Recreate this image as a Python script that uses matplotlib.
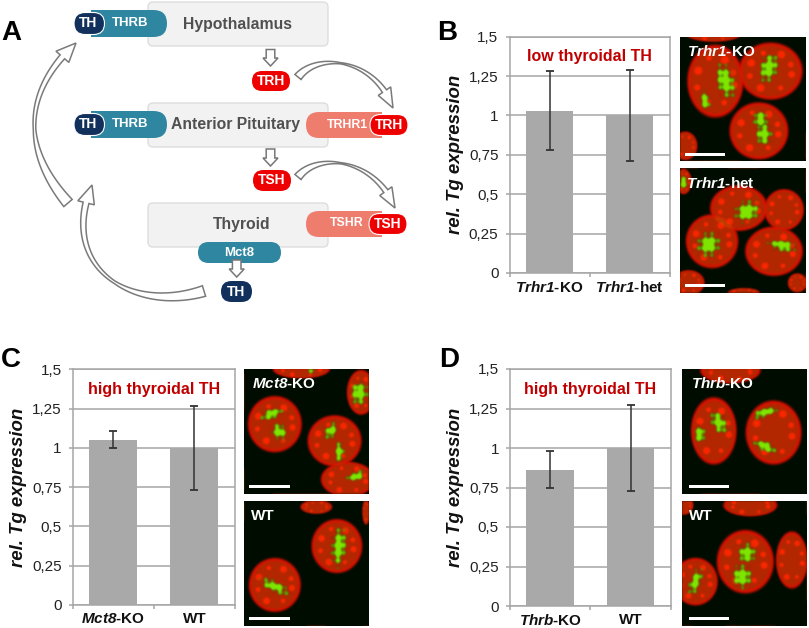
import numpy as np
import matplotlib
matplotlib.use("Agg")
import matplotlib.pyplot as plt
from matplotlib.patches import FancyBboxPatch, Polygon, Rectangle

plt.rcParams['font.family'] = ['Liberation Sans', 'DejaVu Sans']
plt.rcParams['mathtext.fontset'] = 'custom'
plt.rcParams['mathtext.rm'] = 'Liberation Sans:bold'
plt.rcParams['mathtext.it'] = 'Liberation Sans:italic:bold'
plt.rcParams['mathtext.bf'] = 'Liberation Sans:bold'
plt.rcParams['mathtext.bfit'] = 'Liberation Sans:italic:bold'

W, H = 809, 628
fig = plt.figure(figsize=(W / 100, H / 100), dpi=100, facecolor='white')

# ---------- chart data ----------
tick_values = [0, 0.25, 0.5, 0.75, 1, 1.25, 1.5]
tick_labels = ['0', '0,25', '0,5', '0,75', '1', '1,25', '1,5']

b_labels = [r'$\mathbfit{Trhr1}$-KO', r'$\mathbfit{Trhr1}$-het']
b_values = [1.03, 1.00]
b_low = [0.78, 0.71]
b_high = [1.28, 1.29]

c_labels = [r'$\mathbfit{Mct8}$-KO', 'WT']
c_values = [1.05, 1.00]
c_low = [1.00, 0.735]
c_high = [1.11, 1.265]

d_labels = [r'$\mathbfit{Thrb}$-KO', 'WT']
d_values = [0.86, 1.00]
d_low = [0.745, 0.725]
d_high = [0.98, 1.275]

GREY = '#a6a6a6'
DARKRED = '#c00000'


def axes_px(x0, y0, x1, y1, **kw):
    return fig.add_axes([x0 / W, 1 - y1 / H, (x1 - x0) / W, (y1 - y0) / H], **kw)


def bar_panel(box, labels, values, low, high, title, ylab_x):
    ax = axes_px(*box)
    pos = np.arange(len(values))
    vals = np.array(values)
    err = [vals - np.array(low), np.array(high) - vals]
    ax.set_axisbelow(True)
    ax.yaxis.grid(True, color=GREY, lw=1.1)
    ax.bar(pos, vals, width=0.59, color='#a9a9a9', zorder=2)
    ax.errorbar(pos, vals, yerr=err, fmt='none', ecolor='#333333',
                elinewidth=1.1, capsize=3, capthick=1.3, zorder=3)
    ax.set_xlim(-0.5, 1.5)
    ax.set_ylim(0, 1.5)
    ax.set_yticks(tick_values)
    ax.set_yticklabels(tick_labels, fontsize=11, color='#222222')
    ax.set_xticks(pos)
    ax.set_xticklabels(labels, fontsize=11, fontweight='bold', color='#111111')
    ax.set_xticks([-0.5, 0.5, 1.5], minor=True)
    ax.tick_params(axis='x', which='major', length=0, pad=5)
    ax.tick_params(axis='x', which='minor', length=3, color=GREY, width=1.1)
    ax.tick_params(axis='y', length=3, color=GREY, width=1.1, pad=5)
    for s in ax.spines.values():
        s.set_color(GREY)
        s.set_linewidth(1.1)
    ax.text(0.5, 0.915, title, transform=ax.transAxes, ha='center', va='center',
            fontsize=11.5, fontweight='bold', color=DARKRED)
    fig.text(ylab_x / W, 1 - (box[1] + box[3]) / 2 / H, 'rel. Tg expression', rotation=90,
             ha='center', va='center', fontsize=13.4, fontweight='bold', style='italic',
             color='#111111')


bar_panel((509.5, 36.7, 669.5, 273), b_labels, b_values, b_low, b_high, 'low thyroidal TH', 456)
bar_panel((72.7, 369.3, 235, 605), c_labels, c_values, c_low, c_high, 'high thyroidal TH', 19)
bar_panel((510, 369, 670.7, 606), d_labels, d_values, d_low, d_high, 'high thyroidal TH', 455)


# ---------- microscopy panels ----------
def soft(xx, yy, cx, cy, rx, ry, angle=0, edge=0.12, wobble=0.0):
    a = np.deg2rad(angle)
    dx, dy = xx - cx, yy - cy
    u = dx * np.cos(a) + dy * np.sin(a)
    v = -dx * np.sin(a) + dy * np.cos(a)
    d = np.sqrt((u / rx) ** 2 + (v / ry) ** 2)
    if wobble:
        d = d + wobble * (np.sin(xx * 0.9 + cy) + np.sin(yy * 0.8 + cx))
    return np.clip((1 - d) / edge, 0, 1)


def blur(a, n=2):
    for _ in range(n):
        a = (np.roll(a, 1, 0) + np.roll(a, -1, 0) + np.roll(a, 1, 1) + np.roll(a, -1, 1) + a) / 5
    return a


SPOT_ANGLES = [10, 62, 118, 165, 205, 250, 300, 340]
SPOT_SIZES = [0.27, 0.2, 0.3, 0.22, 0.3, 0.2, 0.3, 0.22]


def micro(box, origin, nuclei, greens):
    x0, y0, x1, y1 = box
    n = 250
    c = np.linspace(0, 125, n)
    xx, yy = np.meshgrid(c, c)
    red = np.zeros_like(xx)
    grn = np.full_like(xx, 0.05)
    for (cx, cy, rx, ry) in nuclei:
        cx, cy, rx, ry = (cx - origin[0]) / 3, (cy - origin[1]) / 3, rx / 3, ry / 3
        body = soft(xx, yy, cx, cy, rx, ry, edge=0.1)
        inner = soft(xx, yy, cx, cy, rx * 0.92, ry * 0.92, edge=0.12)
        layer = body * 0.9 - inner * 0.2
        for ang, sz in zip(SPOT_ANGLES, SPOT_SIZES):
            t = np.deg2rad(ang)
            sx = cx + 0.64 * rx * np.cos(t)
            sy = cy + 0.64 * ry * np.sin(t)
            r = sz * (rx + ry) / 2
            layer = np.maximum(layer, soft(xx, yy, sx, sy, r, r, edge=0.7) * body * 0.98)
        red = np.maximum(red, layer)
        grn += inner * 0.1
    for g in greens:
        cx, cy, rx, ry, ang = g
        cx, cy, rx, ry = (cx - origin[0]) / 3, (cy - origin[1]) / 3, rx / 3 * 1.2, ry / 3 * 1.2
        m = soft(xx, yy, cx, cy, rx, ry, ang, edge=0.5, wobble=0.16)
        grn = np.maximum(grn, m * 0.9)
        red = np.maximum(red * (1 - 0.8 * m), m * 0.5)
    red, grn = blur(red, 4), blur(grn, 4)
    img = np.dstack([red, grn, np.zeros_like(red)])
    ax = axes_px(x0, y0, x1, y1)
    ax.imshow(np.clip(img, 0, 1), extent=(0, 125, 125, 0), interpolation='bilinear', aspect='auto')
    ax.axis('off')


micro((680, 36.7, 805.7, 161), (750, 110),
      [(855, 245, 88, 115), (1020, 215, 100, 90), (985, 395, 92, 90), (765, 440, 38, 45), (850, 100, 90, 28)],
      [(885, 245, 22, 45, -15), (1015, 205, 22, 38, 15), (825, 305, 12, 25, -10), (990, 360, 18, 22, 0), (1000, 405, 20, 28, 0)])
micro((680, 168, 805.7, 293), (750, 505),
      [(925, 625, 90, 72), (1060, 630, 62, 65), (845, 725, 82, 85), (1030, 755, 90, 78), (775, 850, 50, 40),
       (760, 545, 25, 40), (1100, 850, 30, 30), (940, 880, 50, 15)],
      [(950, 635, 32, 26, -30), (835, 735, 28, 32, 30), (1055, 738, 35, 14, 10), (760, 548, 12, 15, 0)])
micro((244, 369, 369, 494), (733, 88),
      [(825, 255, 85, 88), (1005, 305, 85, 80), (1085, 160, 45, 70), (905, 90, 90, 30), (1045, 420, 85, 55)],
      [(815, 225, 30, 12, -15), (838, 278, 18, 22, -40), (995, 275, 14, 22, 30), (1020, 338, 12, 25, 0),
       (1080, 162, 22, 30, 0), (1070, 410, 25, 12, -20), (935, 98, 8, 8, 0)])
micro((244, 501, 369, 626), (733, 483),
      [(825, 735, 82, 85), (1012, 618, 80, 85), (950, 500, 50, 22), (1100, 515, 12, 40)],
      [(1018, 620, 18, 50, 5), (825, 740, 40, 14, 25)])
micro((681.7, 369, 806.7, 494), (755, 88),
      [(850, 275, 72, 105), (1030, 280, 88, 100), (900, 95, 95, 40)],
      [(865, 250, 18, 30, -25), (808, 285, 14, 22, 0), (1005, 220, 35, 12, -20), (1005, 322, 30, 12, 20)])
micro((681.7, 501, 806.7, 626), (755, 483),
      [(945, 665, 90, 100), (795, 725, 70, 75), (1085, 660, 50, 90), (960, 495, 85, 35), (760, 495, 30, 30)],
      [(950, 640, 22, 25, 0), (935, 710, 25, 30, 0), (795, 725, 14, 35, 20)])

# ---------- overlay in pixel coordinates ----------
ov = fig.add_axes([0, 0, 1, 1], facecolor='none')
ov.set_xlim(0, W)
ov.set_ylim(H, 0)
ov.axis('off')

for (xa, xb, y) in [(685, 725.5, 154.5), (685, 725.5, 285.5), (249.5, 290, 486.5), (249.5, 290, 618.5),
                    (689, 729.5, 486.5), (689, 729.5, 618.5)]:
    ov.add_patch(Rectangle((xa, y - 1.3), xb - xa, 2.6, fc='white', ec='none'))

for (x, y, s) in [(687, 52, r'$\mathbfit{Trhr1}$-KO'), (686, 184, r'$\mathbfit{Trhr1}$-het'),
                  (252, 384, r'$\mathbfit{Mct8}$-KO'), (251, 516, 'WT'),
                  (691, 384, r'$\mathbfit{Thrb}$-KO'), (689, 516, 'WT')]:
    ov.text(x, y, s, color='white', fontsize=11, fontweight='bold', ha='left', va='center')

for (x, y, s) in [(11, 33, 'A'), (447, 33, 'B'), (11, 360, 'C'), (449, 360, 'D')]:
    ov.text(x, y, s, fontsize=20, fontweight='bold', color='black', ha='center', va='center')


def rbox(x0, y0, x1, y1, fc, ec='none', r=None, lw=1, z=2):
    r = (y1 - y0) / 2 if r is None else r
    ov.add_patch(FancyBboxPatch((x0 + r, y0 + r), x1 - x0 - 2 * r, y1 - y0 - 2 * r,
                                boxstyle=f'round,pad={r},rounding_size={r}',
                                fc=fc, ec=ec, lw=lw, zorder=z))


def label(x, y, s, size=9.5, color='white', z=6):
    ov.text(x, y, s, fontsize=size, fontweight='bold', color=color, ha='center', va='center', zorder=z)


BOX = '#f2f2f2'
TEAL = '#2f86a0'
NAVY = '#12305c'
RED = '#ee0000'
SALMON = '#ee7d6e'

for (y0, y1, name, cx) in [(2, 46, 'Hypothalamus', 238), (103, 147, 'Anterior Pituitary', 236), (203, 247, 'Thyroid', 242)]:
    rbox(148, y0, 328, y1, BOX, '#dddddd', r=5)
    label(cx, (y0 + y1) / 2 + (0 if y0 != 2 else 1), name, size=11.3, color='#505050')

for (y0, y1) in [(10, 37), (111, 138)]:
    rbox(91, y0, 167, y1, TEAL, z=3)
    ov.add_patch(Rectangle((91, y0), 14, y1 - y0, fc=TEAL, ec='none', zorder=3))
    label(130, (y0 + y1) / 2 - 0.5, 'THRB', size=9.5)
    rbox(74, y0 + 2.5, 104.5, y1 - 2.5, NAVY, 'white', lw=0.8, z=4)
    label(88, (y0 + y1) / 2 - 0.5, 'TH', size=10)

for (y0, y1, name, tx, rx0, rx1, lab) in [(112, 138, 'TRHR1', 347, 370, 408, 'TRH'), (211, 237, 'TSHR', 347, 369, 407, 'TSH')]:
    rbox(306, y0, 382, y1, SALMON, z=3)
    ov.add_patch(Rectangle((365, y0), 17, y1 - y0, fc=SALMON, ec='none', zorder=3))
    label(tx, (y0 + y1) / 2 - 0.5, name, size=8.8)
    rbox(rx0, y0 + 2.5, rx1, y1 - 2.5, RED, 'white', lw=0.8, z=4)
    label((rx0 + rx1) / 2, (y0 + y1) / 2, lab, size=10)

rbox(252, 71, 290, 91, RED)
label(271, 81, 'TRH', size=10)
rbox(253, 170, 291, 191, RED)
label(272, 180.5, 'TSH', size=10)
rbox(198, 242, 281, 263, TEAL)
label(239, 252.5, 'Mct8', size=9.5)
rbox(221, 281, 252, 302, NAVY)
label(236.5, 291.5, 'TH', size=10)


def down_arrow(x, y0, y1):
    sw, hw, hl = 4.3, 7.5, 8
    pts = [(x - sw, y0), (x + sw, y0), (x + sw, y1 - hl), (x + hw, y1 - hl), (x, y1),
           (x - hw, y1 - hl), (x - sw, y1 - hl)]
    ov.add_patch(Polygon(pts, closed=True, fc='white', ec='#777777', lw=1.1, zorder=5))


down_arrow(270.5, 49.5, 66)
down_arrow(270.5, 149, 166)
down_arrow(236.7, 260, 277)


def curved_arrow(P, w0, wm, wh, head_w, head_frac=0.10):
    """Hollow ribbon along a cubic Bezier, wide at the tail, thin mid-way, open to a head."""
    P = np.array(P, float)
    t = np.linspace(0, 1, 120)[:, None]
    pts = (1 - t) ** 3 * P[0] + 3 * (1 - t) ** 2 * t * P[1] + 3 * (1 - t) * t ** 2 * P[2] + t ** 3 * P[3]
    tan = np.gradient(pts, axis=0)
    tan /= np.linalg.norm(tan, axis=1, keepdims=True)
    nor = np.c_[-tan[:, 1], tan[:, 0]]
    tt = t[:, 0]
    end = 1 - head_frac
    w = np.interp(tt, [0, 0.45, end], [w0, wm, wh])
    mask = tt <= end
    a = pts[mask] + nor[mask] * w[mask, None] / 2
    b = pts[mask] - nor[mask] * w[mask, None] / 2
    tip = pts[-1]
    ha = pts[mask][-1] + nor[mask][-1] * head_w / 2
    hb = pts[mask][-1] - nor[mask][-1] * head_w / 2
    poly = np.vstack([a, ha, tip, hb, b[::-1]])
    ov.add_patch(Polygon(poly, closed=True, fc='white', ec='#7a7a7a', lw=1.1, zorder=1.5))


curved_arrow([(298, 77), (318, 52), (375, 58), (393, 108)], 8, 1.2, 5, 15, 0.12)
curved_arrow([(298, 177), (318, 152), (375, 158), (395, 208)], 8, 1.2, 5, 15, 0.12)
curved_arrow([(68, 203), (22, 150), (22, 92), (76, 43)], 11, 2.5, 6, 17, 0.09)
curved_arrow([(204, 291), (130, 314), (58, 266), (92, 185)], 11, 2.5, 6, 17, 0.07)

fig.savefig('out.png', dpi=100)
